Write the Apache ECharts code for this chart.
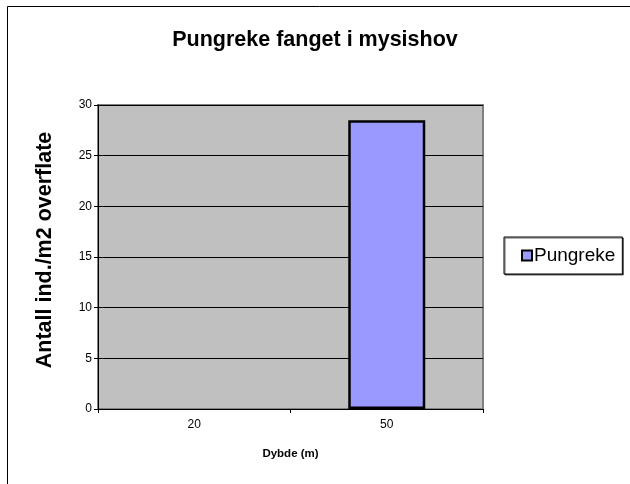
<!DOCTYPE html>
<html>
<head>
<meta charset="utf-8">
<script src="https://cdn.jsdelivr.net/npm/echarts@6/dist/echarts.min.js"></script>
<style>
  html, body { margin: 0; padding: 0; background: #fff; }
  #chart { width: 630px; height: 484px; }
</style>
</head>
<body>
<div id="chart"></div>
<script>
// Depth categories (m) and catch per square metre
const depths = ['20', '50'];
const pungreke = [null, 28.5];
const yTicks = { min: 0, max: 30, interval: 5 };
const yTitle = 'Antall ind./m2 overflate';

const FONT = '"Liberation Sans", Arial, sans-serif';

const chart = echarts.init(document.getElementById('chart'), null, { renderer: 'canvas' });

chart.setOption({
  backgroundColor: '#ffffff',
  animation: false,
  title: {
    text: 'Pungreke fanget i mysishov',
    left: 'center',
    top: 24,
    textStyle: { fontFamily: FONT, fontSize: 21.5, fontWeight: 'bold', color: '#000' }
  },
  graphic: [{
    type: 'rect',
    shape: { x: 7.5, y: 6.5, width: 640, height: 500 },
    style: { fill: 'none', stroke: '#000', lineWidth: 1 },
    silent: true,
    z: 100
  }, {
    // vertical axis title, set slightly above the plot's middle
    type: 'text',
    x: 45,
    y: 250,
    rotation: Math.PI / 2,
    style: {
      text: yTitle,
      fontFamily: FONT,
      fontSize: 21.5,
      fontWeight: 'bold',
      fill: '#000',
      align: 'center',
      verticalAlign: 'middle'
    },
    silent: true
  }],
  legend: {
    data: ['Pungreke'],
    left: 504,
    top: 237,
    padding: [9, 7, 9, 17],
    backgroundColor: '#fff',
    borderColor: '#000',
    borderWidth: 1,
    shadowColor: 'rgba(0,0,0,0.6)',
    shadowOffsetX: 1,
    shadowOffsetY: 1,
    icon: 'rect',
    itemWidth: 10,
    itemHeight: 10,
    itemGap: 4,
    itemStyle: { color: '#9999FF', borderColor: '#000', borderWidth: 2 },
    textStyle: { fontFamily: FONT, fontSize: 19, color: '#000', padding: [0, 0, 0, -3] }
  },
  grid: {
    left: 98,
    right: 147,
    top: 105,
    bottom: 75,
    show: true,
    backgroundColor: '#C0C0C0',
    borderColor: '#808080',
    borderWidth: 2
  },
  xAxis: {
    type: 'category',
    data: depths,
    name: 'Dybde (m)',
    nameLocation: 'middle',
    nameGap: 39,
    nameTextStyle: { fontFamily: FONT, fontSize: 11.5, fontWeight: 'bold', color: '#000' },
    axisLine: { lineStyle: { color: '#000', width: 1 } },
    axisTick: { show: true, alignWithLabel: false, length: 4, lineStyle: { color: '#000' } },
    axisLabel: { fontFamily: FONT, fontSize: 12, color: '#000', margin: 10 },
    splitLine: { show: false }
  },
  yAxis: {
    type: 'value',
    min: yTicks.min,
    max: yTicks.max,
    interval: yTicks.interval,
    axisLine: { show: true, lineStyle: { color: '#000', width: 1 } },
    axisTick: { show: true, length: 4, lineStyle: { color: '#000' } },
    axisLabel: { fontFamily: FONT, fontSize: 12, color: '#000', margin: 6 },
    splitLine: { show: true, lineStyle: { color: '#000', width: 1 } }
  },
  series: [{
    name: 'Pungreke',
    type: 'bar',
    data: pungreke,
    barWidth: '40%',
    itemStyle: { color: '#9999FF', borderColor: '#000', borderWidth: 2.5 }
  }]
});
</script>
</body>
</html>
